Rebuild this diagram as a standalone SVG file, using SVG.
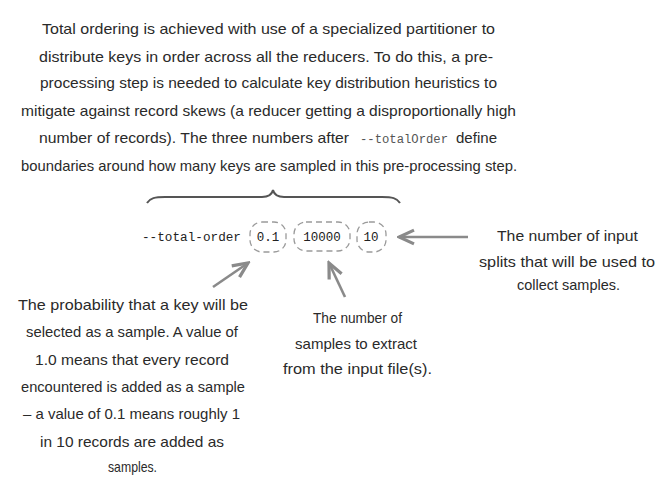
<svg xmlns="http://www.w3.org/2000/svg" width="670" height="491" viewBox="0 0 670 491">
<style>
.t{font-family:"Liberation Sans","DejaVu Sans",sans-serif;font-size:15px;fill:#2a2a2a}
.m{font-family:"Liberation Mono","DejaVu Sans Mono",monospace;font-size:12.5px;fill:#222}
.mg{font-family:"Liberation Mono","DejaVu Sans Mono",monospace;font-size:12px;fill:#555}
.box{fill:none;stroke:#9a9a9a;stroke-width:1.3;stroke-dasharray:6 4}
.arr{fill:none;stroke:#8a8a8a;stroke-width:2.6;marker-end:url(#ah)}
.brace{fill:none;stroke:#555;stroke-width:2}
</style>
<defs>
<marker id="ah" markerUnits="userSpaceOnUse" markerWidth="20" markerHeight="20" viewBox="-14 -8 16 16" refX="0" refY="0" orient="auto">
<path d="M-12,-5.5 L0,0 L-12,5.5" fill="none" stroke="#8a8a8a" stroke-width="2.6" stroke-linejoin="miter"/>
</marker>
</defs>
<rect width="670" height="491" fill="#fff"/>
<g id="intro">
<text class="t" x="42" y="34" textLength="453" lengthAdjust="spacingAndGlyphs">Total ordering is achieved with use of a specialized partitioner to</text>
<text class="t" x="39" y="62" textLength="454" lengthAdjust="spacingAndGlyphs">distribute keys in order across all the reducers. To do this, a pre-</text>
<text class="t" x="40" y="88" textLength="457" lengthAdjust="spacingAndGlyphs">processing step is needed to calculate key distribution heuristics to</text>
<text class="t" x="21" y="116" textLength="495" lengthAdjust="spacingAndGlyphs">mitigate against record skews (a reducer getting a disproportionally high</text>
<text class="t" x="39" y="143" textLength="310" lengthAdjust="spacingAndGlyphs">number of records). The three numbers after</text>
<text class="mg" x="360" y="143" textLength="88" lengthAdjust="spacingAndGlyphs">--totalOrder</text>
<text class="t" x="456" y="143" textLength="41" lengthAdjust="spacingAndGlyphs">define</text>
<text class="t" x="21" y="171" textLength="496" lengthAdjust="spacingAndGlyphs">boundaries around how many keys are sampled in this pre-processing step.</text>
</g>
<g id="brace">
<path class="brace" d="M147,203 C150,198 155,197 165,197 L262,197 C268,197 272,194 273,190 C274,194 278,197 284,197 L382,197 C392,197 397,198 400,203"/>
</g>
<g id="command">
<text class="m" x="142" y="241" textLength="99" lengthAdjust="spacingAndGlyphs">--total-order</text>
</g>
<g id="box-prob">
<rect class="box" x="250" y="222" width="36" height="30" rx="12"/>
<text class="m" x="268" y="241" text-anchor="middle">0.1</text>
</g>
<g id="box-samples">
<rect class="box" x="294" y="222" width="56" height="29" rx="12"/>
<text class="m" x="322" y="241" text-anchor="middle">10000</text>
</g>
<g id="box-splits">
<rect class="box" x="357" y="222" width="29" height="30" rx="12"/>
<text class="m" x="371" y="241" text-anchor="middle">10</text>
</g>
<g id="connectors">
<line class="arr" x1="468" y1="237" x2="399" y2="237"/>
<line class="arr" x1="213" y1="287" x2="248" y2="263"/>
<line class="arr" x1="345" y1="297" x2="329" y2="263"/>
</g>
<g id="note-prob">
<text class="t" x="18" y="310" textLength="230" lengthAdjust="spacingAndGlyphs">The probability that a key will be</text>
<text class="t" x="26" y="337" textLength="212" lengthAdjust="spacingAndGlyphs">selected as a sample. A value of</text>
<text class="t" x="35" y="365" textLength="194" lengthAdjust="spacingAndGlyphs">1.0 means that every record</text>
<text class="t" x="21" y="392" textLength="224" lengthAdjust="spacingAndGlyphs">encountered is added as a sample</text>
<text class="t" x="23" y="419" textLength="217" lengthAdjust="spacingAndGlyphs">– a value of 0.1 means roughly 1</text>
<text class="t" x="40" y="447" textLength="184" lengthAdjust="spacingAndGlyphs">in 10 records are added as</text>
<text class="t" x="108" y="472" textLength="49" lengthAdjust="spacingAndGlyphs">samples.</text>
</g>
<g id="note-samples">
<text class="t" x="313" y="323" textLength="89" lengthAdjust="spacingAndGlyphs">The number of</text>
<text class="t" x="295" y="349" textLength="122" lengthAdjust="spacingAndGlyphs">samples to extract</text>
<text class="t" x="283" y="374" textLength="149" lengthAdjust="spacingAndGlyphs">from the input file(s).</text>
</g>
<g id="note-splits">
<text class="t" x="497" y="241" textLength="141" lengthAdjust="spacingAndGlyphs">The number of input</text>
<text class="t" x="479" y="267" textLength="176" lengthAdjust="spacingAndGlyphs">splits that will be used to</text>
<text class="t" x="517" y="290" textLength="103" lengthAdjust="spacingAndGlyphs">collect samples.</text>
</g>
</svg>
